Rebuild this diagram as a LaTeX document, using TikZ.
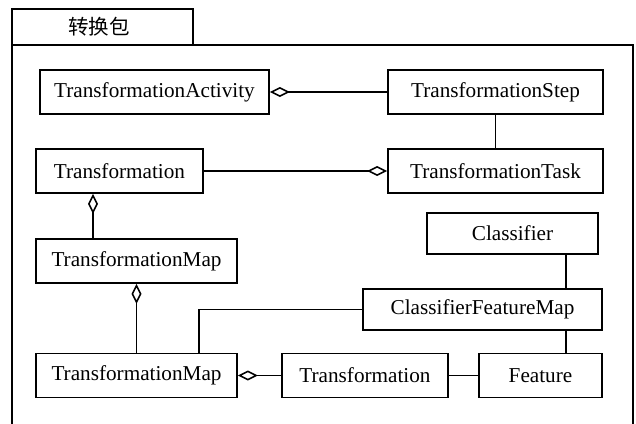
\documentclass[tikz,border=0pt]{standalone}
\usepackage{fontspec}
\setmainfont{Liberation Serif}
\newfontfamily\cjk{Noto Sans CJK SC}
\usetikzlibrary{arrows.meta}

\tikzset{
  classbox/.style={draw, line width=1.8pt, inner sep=0pt,
    minimum height=44pt, font=\fontsize{21.2}{25}\selectfont},
  assoc/.style={line width=1.8pt},
  aggr/.style={line width=1.8pt,
    {Diamond[open, length=20pt, width=10pt, line width=1.6pt]}-}
}

\begin{document}
\begin{tikzpicture}[x=1pt, y=-1pt]

  % Page size (pixels of the reference)
  \useasboundingbox (0,0) rectangle (636,423);
  \fill[white] (0,0) rectangle (636,423);

  % Package frame with its tab
  \draw[line width=1.8pt] (12,9) rectangle (193,45);
  \node[font=\cjk\fontsize{20.5}{24}\selectfont] (pkg) at (99,27) {转换包};
  \draw[line width=1.8pt] (12,440) -- (12,45) -- (633,45) -- (633,440);

  % Classes
  \node[classbox, minimum width=229pt] (act)    at (154.5,92)  {TransformationActivity};
  \node[classbox, minimum width=215pt] (step)   at (495.5,92)  {TransformationStep};
  \node[classbox, minimum width=167pt] (trans)  at (119.5,171) {Transformation};
  \node[classbox, minimum width=215pt] (task)   at (495.5,171) {TransformationTask};
  \node[classbox, minimum width=201pt] (mapA)   at (136.5,261) {TransformationMap};
  \node[classbox, minimum width=171pt, minimum height=41pt]
                                       (cls)    at (512.5,233.5) {Classifier};
  \node[classbox, minimum width=239pt, minimum height=41pt]
                                       (cfm)    at (482.5,309.5) {ClassifierFeatureMap};
  \node[classbox, minimum width=201pt] (mapB)   at (136.5,375.5) {TransformationMap};
  \node[classbox, minimum width=166pt] (transB) at (365,375.5)   {Transformation};
  \node[classbox, minimum width=123pt] (feat)   at (540.5,375.5) {Feature};

  % Aggregations (diamond on the whole)
  \draw[aggr] (act.east) -- (step.west);
  \draw[aggr] (task.west) -- (trans.east);
  \draw[aggr] ([xshift=-26.5pt]trans.south) -- ([xshift=-26.5pt]trans.south |- mapA.north);
  \draw[aggr] (mapA.south) -- (mapB.north);
  \draw[aggr] (mapB.east) -- (transB.west);

  % Plain associations
  \draw[assoc] (step.south) -- (task.north);
  \draw[assoc] ([xshift=62.5pt]mapB.north) |- (cfm.west);
  \draw[assoc] ([xshift=53.5pt]cls.south) -- ([xshift=53.5pt]cls.south |- cfm.north);
  \draw[assoc] ([xshift=25.5pt]feat.north |- cfm.south) -- ([xshift=25.5pt]feat.north);
  \draw[assoc] (transB.east) -- (feat.west);

\end{tikzpicture}
\end{document}
